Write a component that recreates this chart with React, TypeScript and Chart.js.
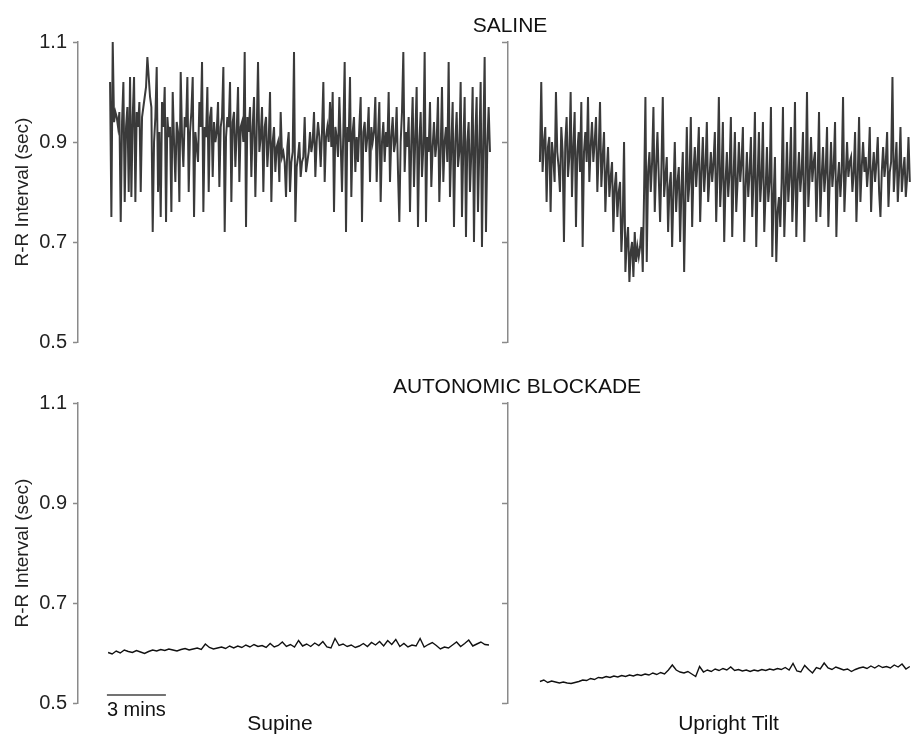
import React, { useEffect, useRef } from "react";
import { Chart, registerables } from "chart.js";

Chart.register(...registerables);

const FONT = "'Liberation Sans', Arial, Helvetica, sans-serif";

// ---- axes / labels ----
const Y_TICKS = [0.5, 0.7, 0.9, 1.1];
const Y_MIN = 0.5;
const Y_MAX = 1.1;
const Y_TITLE = "R-R Interval (sec)";
const X_MAX_MIN = 42.36; // minutes visible across the plot width
const MID_AXIS_MIN = 21.86; // second (unlabelled) axis, in minutes
const PANEL_TITLES = ["SALINE", "AUTONOMIC BLOCKADE"];
const CONDITIONS = ["Supine", "Upright Tilt"];
const CONDITION_LABEL_MIN = [10.27, 33.08];
const SCALE_BAR_LABEL = "3 mins";
const SCALE_BAR_START_MIN = 1.47;
const SCALE_BAR_LEN_MIN = 3;

// ---- traces: [start min, end min] and R-R values (sec) ----
const SALINE_SUPINE_SPAN = [1.63, 20.95];
const SALINE_SUPINE = [
  1.02, 0.75, 1.10, 0.94, 0.96, 0.95, 0.93, 0.96, 0.74, 0.94, 1.02, 0.78, 0.93, 0.97, 0.80,
  1.03, 0.79, 0.95, 1.03, 0.78, 0.96, 0.93, 0.98, 0.80, 0.95, 0.97, 0.99, 1.01, 1.07, 1.03,
  0.99, 0.97, 0.72, 0.90, 0.95, 1.05, 0.80, 0.92, 0.75, 0.98, 0.93, 1.01, 0.74, 0.95, 0.91,
  0.93, 0.76, 1.00, 0.90, 0.82, 0.94, 0.92, 0.78, 1.04, 0.91, 0.85, 0.95, 0.93, 1.03, 0.80,
  0.92, 0.96, 1.03, 0.75, 0.92, 0.89, 0.86, 0.98, 0.93, 1.06, 0.76, 0.93, 0.91, 1.01, 0.80,
  0.95, 0.97, 0.83, 0.94, 0.90, 0.92, 0.98, 0.81, 0.93, 0.95, 1.05, 0.72, 0.91, 0.95, 0.93,
  1.02, 0.78, 0.94, 0.96, 0.85, 0.92, 1.01, 0.82, 0.93, 0.94, 0.90, 1.08, 0.73, 0.95, 0.92,
  0.97, 0.83, 0.93, 0.99, 0.79, 0.92, 1.06, 0.88, 0.91, 0.97, 0.80, 0.93, 0.95, 0.85, 0.90,
  1.00, 0.78, 0.90, 0.93, 0.84, 0.89, 0.90, 0.82, 0.96, 0.87, 0.88, 0.86, 0.79, 0.89, 0.92,
  0.80, 0.86, 0.88, 1.08, 0.74, 0.85, 0.87, 0.90, 0.83, 0.86, 0.87, 0.95, 0.84, 0.86, 0.88,
  0.92, 0.88, 0.90, 0.96, 0.83, 0.90, 0.94, 0.91, 0.85, 0.92, 1.02, 0.82, 0.91, 0.93, 0.90,
  0.98, 0.89, 1.00, 0.76, 0.93, 0.91, 0.87, 0.99, 0.90, 0.80, 0.92, 1.06, 0.72, 0.93, 0.90,
  1.03, 0.79, 0.92, 0.95, 0.84, 0.91, 0.86, 0.93, 0.99, 0.74, 0.92, 0.94, 0.88, 0.91, 0.97,
  0.82, 0.93, 0.90, 0.92, 0.99, 0.82, 0.91, 0.98, 0.78, 0.90, 0.94, 0.86, 0.92, 0.89, 1.00,
  0.82, 0.91, 0.95, 0.88, 0.90, 0.97, 0.84, 0.74, 0.90, 0.96, 1.08, 0.84, 0.92, 0.89, 0.95,
  0.76, 0.90, 0.99, 0.81, 0.91, 1.01, 0.73, 0.90, 0.96, 0.83, 0.89, 1.08, 0.74, 0.91, 0.88,
  0.98, 0.81, 0.89, 0.94, 0.87, 0.90, 0.99, 0.78, 0.88, 1.01, 0.82, 0.90, 0.93, 0.86, 1.06,
  0.79, 0.89, 0.98, 0.73, 0.90, 0.96, 0.85, 0.88, 1.02, 0.75, 0.89, 0.99, 0.71, 0.90, 0.94,
  0.80, 0.88, 1.01, 0.70, 0.91, 0.99, 0.76, 0.89, 1.02, 0.69, 0.90, 1.07, 0.72, 0.89, 0.97,
  0.88,
];

const SALINE_TILT_SPAN = [23.49, 42.3];
const SALINE_TILT = [
  0.86, 1.02, 0.84, 0.90, 0.93, 0.78, 0.89, 0.91, 0.76, 0.90, 0.87, 0.82, 1.00, 0.88, 0.85,
  0.80, 0.93, 0.88, 0.70, 0.90, 0.95, 0.83, 0.87, 1.00, 0.79, 0.89, 0.96, 0.73, 0.88, 0.92,
  0.84, 0.98, 0.69, 0.88, 0.92, 0.86, 0.99, 0.82, 0.89, 0.94, 0.86, 0.90, 0.95, 0.80, 0.88,
  0.98, 0.81, 0.87, 0.92, 0.76, 0.84, 0.89, 0.79, 0.83, 0.86, 0.72, 0.81, 0.84, 0.75, 0.80,
  0.82, 0.68, 0.74, 0.90, 0.64, 0.70, 0.73, 0.62, 0.68, 0.70, 0.63, 0.72, 0.66, 0.69, 0.67,
  0.69, 0.73, 0.64, 0.80, 0.99, 0.66, 0.84, 0.88, 0.80, 0.86, 0.97, 0.76, 0.85, 0.92, 0.83,
  0.74, 0.85, 0.99, 0.79, 0.83, 0.87, 0.72, 0.81, 0.84, 0.69, 0.80, 0.90, 0.76, 0.82, 0.85,
  0.70, 0.81, 0.88, 0.64, 0.79, 0.93, 0.78, 0.82, 0.95, 0.73, 0.84, 0.89, 0.81, 0.86, 0.93,
  0.74, 0.84, 0.91, 0.80, 0.85, 0.94, 0.78, 0.83, 0.88, 0.82, 0.86, 0.92, 0.74, 0.84, 0.99,
  0.77, 0.83, 0.94, 0.70, 0.82, 0.88, 0.79, 0.84, 0.95, 0.71, 0.83, 0.92, 0.76, 0.82, 0.90,
  0.82, 0.86, 0.93, 0.70, 0.81, 0.88, 0.79, 0.84, 0.91, 0.75, 0.83, 0.96, 0.69, 0.82, 0.92,
  0.78, 0.83, 0.94, 0.72, 0.80, 0.89, 0.78, 0.82, 0.97, 0.67, 0.79, 0.87, 0.66, 0.76, 0.79,
  0.73, 0.82, 0.97, 0.71, 0.80, 0.90, 0.78, 0.83, 0.93, 0.74, 0.81, 0.98, 0.71, 0.82, 0.88,
  0.80, 0.84, 0.92, 0.70, 0.82, 1.00, 0.77, 0.83, 0.91, 0.82, 0.86, 0.88, 0.74, 0.83, 0.96,
  0.75, 0.83, 0.89, 0.80, 0.84, 0.93, 0.73, 0.82, 0.90, 0.81, 0.85, 0.94, 0.71, 0.82, 0.86,
  0.79, 0.84, 0.99, 0.76, 0.83, 0.90, 0.83, 0.86, 0.87, 0.80, 0.84, 0.92, 0.74, 0.83, 0.95,
  0.78, 0.85, 0.90, 0.84, 0.87, 0.81, 0.85, 0.93, 0.76, 0.84, 0.88, 0.82, 0.86, 0.91, 0.80,
  0.75, 0.84, 0.89, 0.83, 0.86, 0.92, 0.77, 0.84, 0.86, 1.03, 0.80, 0.85, 0.90, 0.78, 0.84,
  0.93, 0.80, 0.84, 0.87, 0.79, 0.83, 0.91, 0.82,
];

const BLOCKADE_SUPINE_SPAN = [1.53, 20.9];
const BLOCKADE_SUPINE = [
  0.601, 0.598, 0.604, 0.600, 0.606, 0.603, 0.601, 0.605, 0.602, 0.599,
  0.603, 0.606, 0.604, 0.607, 0.605, 0.608, 0.606, 0.604, 0.607, 0.609,
  0.606, 0.608, 0.610, 0.607, 0.618, 0.611, 0.608, 0.610, 0.612, 0.609,
  0.614, 0.610, 0.614, 0.611, 0.616, 0.612, 0.617, 0.613, 0.615, 0.611,
  0.619, 0.612, 0.615, 0.622, 0.613, 0.617, 0.612, 0.625, 0.614, 0.618,
  0.613, 0.620, 0.615, 0.623, 0.612, 0.610, 0.629, 0.615, 0.618, 0.613,
  0.616, 0.611, 0.614, 0.619, 0.613, 0.621, 0.616, 0.623, 0.614, 0.625,
  0.617, 0.627, 0.613, 0.619, 0.612, 0.616, 0.614, 0.629, 0.612, 0.617,
  0.621, 0.615, 0.608, 0.612, 0.610, 0.616, 0.622, 0.613, 0.619, 0.626,
  0.614, 0.618, 0.622, 0.617, 0.616,
];

const BLOCKADE_TILT_SPAN = [23.49, 42.3];
const BLOCKADE_TILT = [
  0.543, 0.546, 0.541, 0.544, 0.542, 0.540, 0.542, 0.540, 0.539, 0.541,
  0.543, 0.546, 0.545, 0.549, 0.547, 0.551, 0.550, 0.553, 0.551, 0.554,
  0.552, 0.555, 0.553, 0.556, 0.554, 0.557, 0.555, 0.558, 0.556, 0.560,
  0.557, 0.561, 0.558, 0.566, 0.576, 0.566, 0.562, 0.560, 0.563, 0.558,
  0.553, 0.573, 0.562, 0.566, 0.563, 0.568, 0.565, 0.569, 0.566, 0.572,
  0.565, 0.567, 0.564, 0.566, 0.563, 0.566, 0.564, 0.567, 0.565, 0.568,
  0.566, 0.569, 0.567, 0.571, 0.566, 0.579, 0.564, 0.562, 0.575, 0.567,
  0.560, 0.571, 0.568, 0.580, 0.570, 0.567, 0.572, 0.569, 0.566, 0.568,
  0.563, 0.567, 0.570, 0.572, 0.569, 0.574, 0.570, 0.575, 0.571, 0.573,
  0.570, 0.576, 0.572, 0.578, 0.568, 0.573,
];

function toPoints(span: number[], values: number[]) {
  const n = values.length;
  const step = (span[1] - span[0]) / (n - 1);
  return values.map((v, i) => ({ x: span[0] + i * step, y: v }));
}

const AXIS_GRAY = "#8a8a8a";
const TEXT_DARK = "#222";

function yAxes() {
  const setTicks = (s: any) => {
    s.ticks = Y_TICKS.map((v) => ({ value: v }));
  };
  return {
    y: {
      type: "linear",
      position: "left",
      min: Y_MIN,
      max: Y_MAX,
      afterBuildTicks: setTicks,
      afterFit: (s: any) => {
        s.width = 78;
      },
      ticks: {
        callback: (v: any) => Number(v).toFixed(1),
        color: TEXT_DARK,
        font: { family: FONT, size: 20 },
        padding: 6,
      },
      grid: { drawOnChartArea: false, drawTicks: true, tickLength: 5, color: AXIS_GRAY, tickWidth: 1.5 },
      border: { display: true, color: AXIS_GRAY, width: 1.5 },
      title: {
        display: true,
        text: Y_TITLE,
        color: TEXT_DARK,
        font: { family: FONT, size: 19 },
        padding: { top: 11, bottom: 0 },
      },
    },
    yMid: {
      type: "linear",
      axis: "y",
      position: { x: MID_AXIS_MIN },
      min: Y_MIN,
      max: Y_MAX,
      afterBuildTicks: setTicks,
      afterFit: (s: any) => {
        s.width = 0;
      },
      ticks: { display: false },
      grid: { drawOnChartArea: false, drawTicks: true, tickLength: 5, color: AXIS_GRAY, tickWidth: 1.5 },
      border: { display: true, color: AXIS_GRAY, width: 1.5 },
    },
  };
}

function overlayPlugin(o: any) {
  return {
    id: "overlay",
    afterDraw(chart: any) {
      const { ctx, scales } = chart;
      const xs = scales.x;
      ctx.save();
      ctx.fillStyle = "#111";
      ctx.textBaseline = "alphabetic";
      ctx.textAlign = "center";
      ctx.font = `21px ${FONT}`;
      ctx.fillText(o.title, o.titleX, o.titleY);
      if (o.footer) {
        const x0 = xs.getPixelForValue(SCALE_BAR_START_MIN);
        const x1 = xs.getPixelForValue(SCALE_BAR_START_MIN + SCALE_BAR_LEN_MIN);
        ctx.strokeStyle = "#444";
        ctx.lineWidth = 1.5;
        ctx.beginPath();
        ctx.moveTo(x0, o.barY);
        ctx.lineTo(x1, o.barY);
        ctx.stroke();
        ctx.textAlign = "left";
        ctx.font = `20px ${FONT}`;
        ctx.fillText(SCALE_BAR_LABEL, x0, o.barLabelY);
        ctx.textAlign = "center";
        ctx.font = `21px ${FONT}`;
        CONDITIONS.forEach((c, i) => {
          ctx.fillText(c, xs.getPixelForValue(CONDITION_LABEL_MIN[i]), o.condY);
        });
      }
      ctx.restore();
    },
  };
}

function makeChart(canvas: HTMLCanvasElement, datasets: any[], padding: any, overlay: any) {
  return new Chart(canvas, {
    type: "line",
    data: { datasets },
    options: {
      animation: false,
      responsive: false,
      devicePixelRatio: 1,
      layout: { padding },
      plugins: { legend: { display: false }, tooltip: { enabled: false }, title: { display: false } },
      elements: { point: { radius: 0 }, line: { tension: 0 } },
      scales: {
        x: { type: "linear", min: 0, max: X_MAX_MIN, display: false },
        ...(yAxes() as any),
      },
    } as any,
    plugins: [overlayPlugin(overlay)],
  });
}

export default function App() {
  const topRef = useRef<HTMLCanvasElement>(null);
  const botRef = useRef<HTMLCanvasElement>(null);

  useEffect(() => {
    const salineStyle = { borderColor: "#3a3a3a", borderWidth: 2, pointRadius: 0, fill: false };
    const blockStyle = { borderColor: "#111", borderWidth: 1.4, pointRadius: 0, fill: false };
    const top = makeChart(
      topRef.current!,
      [
        { label: "Saline supine", data: toPoints(SALINE_SUPINE_SPAN, SALINE_SUPINE), ...salineStyle },
        { label: "Saline upright tilt", data: toPoints(SALINE_TILT_SPAN, SALINE_TILT), ...salineStyle },
      ],
      { top: 42, bottom: 18, left: 0, right: 0 },
      { title: PANEL_TITLES[0], titleX: 510, titleY: 32, footer: false }
    );
    const bot = makeChart(
      botRef.current!,
      [
        { label: "Blockade supine", data: toPoints(BLOCKADE_SUPINE_SPAN, BLOCKADE_SUPINE), ...blockStyle },
        { label: "Blockade upright tilt", data: toPoints(BLOCKADE_TILT_SPAN, BLOCKADE_TILT), ...blockStyle },
      ],
      { top: 43, bottom: 32, left: 0, right: 0 },
      { title: PANEL_TITLES[1], titleX: 517, titleY: 33, footer: true, barY: 335, barLabelY: 356, condY: 370 }
    );
    return () => {
      top.destroy();
      bot.destroy();
    };
  }, []);

  return (
    <div style={{ position: "absolute", left: 0, top: 0, width: 911, height: 735, background: "#fff" }}>
      <canvas ref={topRef} width={911} height={360} style={{ display: "block", width: 911, height: 360 }} />
      <canvas ref={botRef} width={911} height={375} style={{ display: "block", width: 911, height: 375 }} />
    </div>
  );
}
